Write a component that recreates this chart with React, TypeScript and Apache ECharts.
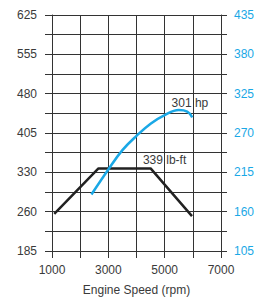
import React, { useEffect, useRef } from "react";
import * as echarts from "echarts";

const rpmTicksLabeled = [1000, 3000, 5000, 7000];
const torqueLabels = ["185", "260", "330", "405", "480", "555", "625"];
const hpLabels = ["105", "160", "215", "270", "325", "380", "435"];

const torqueRpm = [1080, 2650, 4500, 5970];
const torqueVals = [254, 339, 339, 250];

const hpRpm = [2400, 3000, 3500, 4000, 4500, 5000, 5500, 5800, 5980];
const hpVals = [184, 219, 246, 266, 283, 295, 302, 300, 292];

const TORQUE_MIN = 185, TORQUE_MAX = 625;
const HP_MIN = 105, HP_MAX = 435;

const FONT = "'Liberation Sans', Arial, sans-serif";
const TEXT = "#3a3a3a";
const GRID = "#333333";
const BLUE = "#1aa8e6";

function evenly(min: number, max: number, n: number) {
  const out: number[] = [];
  for (let i = 0; i <= n; i++) out.push(min + ((max - min) * i) / n);
  return out;
}

export default function App() {
  const ref = useRef<HTMLDivElement>(null);
  useEffect(() => {
    if (!ref.current) return;
    const chart = echarts.init(ref.current, undefined, { renderer: "svg" });
    const tStep = (TORQUE_MAX - TORQUE_MIN) / 6;
    const hStep = (HP_MAX - HP_MIN) / 6;
    chart.setOption({
      animation: false,
      grid: { left: 52, right: 38, top: 15, bottom: 49, containLabel: false },
      xAxis: {
        type: "value",
        min: 1000,
        max: 7000,
        interval: 1000,
        name: "Engine Speed (rpm)",
        nameLocation: "middle",
        nameGap: 33,
        nameTextStyle: { color: TEXT, fontSize: 12, fontFamily: FONT },
        axisLine: { show: true, lineStyle: { color: GRID, width: 1 } },
        axisTick: { show: true, length: 7, lineStyle: { color: GRID } },
        splitLine: { show: true, lineStyle: { color: GRID, width: 1 } },
        axisLabel: {
          color: TEXT,
          fontSize: 12,
          fontFamily: FONT,
          margin: 13,
          formatter: (v: number) => (rpmTicksLabeled.includes(v) ? String(v) : ""),
        },
      },
      yAxis: [
        {
          type: "value",
          position: "left",
          min: TORQUE_MIN,
          max: TORQUE_MAX,
          axisLine: { show: true, lineStyle: { color: GRID, width: 1 } },
          axisTick: {
            show: true,
            length: 7,
            lineStyle: { color: GRID },
            customValues: evenly(TORQUE_MIN, TORQUE_MAX, 12),
          },
          axisLabel: {
            color: TEXT,
            fontSize: 12,
            fontFamily: FONT,
            margin: 15,
            customValues: evenly(TORQUE_MIN, TORQUE_MAX, 6),
            formatter: (v: number) => torqueLabels[Math.round((v - TORQUE_MIN) / tStep)] ?? "",
          },
          splitLine: { show: false },
        },
        {
          type: "value",
          position: "right",
          min: HP_MIN,
          max: HP_MAX,
          axisLine: { show: true, lineStyle: { color: GRID, width: 1 } },
          axisTick: {
            show: true,
            length: 6,
            lineStyle: { color: GRID },
            customValues: evenly(HP_MIN, HP_MAX, 12),
          },
          axisLabel: {
            color: BLUE,
            fontSize: 12,
            fontFamily: FONT,
            margin: 13,
            customValues: evenly(HP_MIN, HP_MAX, 6),
            formatter: (v: number) => hpLabels[Math.round((v - HP_MIN) / hStep)] ?? "",
          },
          splitLine: { show: false },
        },
        {
          type: "value",
          position: "left",
          min: 0,
          max: 12,
          interval: 1,
          axisLine: { show: false },
          axisTick: { show: false },
          axisLabel: { show: false },
          splitLine: { show: true, lineStyle: { color: GRID, width: 1 } },
        },
      ],
      series: [
        {
          type: "line",
          yAxisIndex: 0,
          data: torqueRpm.map((r, i) => [r, torqueVals[i]]),
          showSymbol: false,
          lineStyle: { color: "#222222", width: 2.5 },
          markPoint: {
            symbol: "circle",
            symbolSize: 1,
            itemStyle: { color: "rgba(0,0,0,0)" },
            data: [{ coord: [4500, 339] }],
            label: {
              show: true,
              position: "inside",
              offset: [14, -8],
              formatter: "339 lb-ft",
              color: TEXT,
              fontSize: 12,
              fontFamily: FONT,
            },
          },
        },
        {
          type: "line",
          yAxisIndex: 1,
          data: hpRpm.map((r, i) => [r, hpVals[i]]),
          smooth: 0.4,
          showSymbol: false,
          lineStyle: { color: BLUE, width: 2.5 },
          markPoint: {
            symbol: "circle",
            symbolSize: 1,
            itemStyle: { color: "rgba(0,0,0,0)" },
            data: [{ coord: [5400, 301] }],
            label: {
              show: true,
              position: "inside",
              offset: [14, -8],
              formatter: "301 hp",
              color: TEXT,
              fontSize: 12,
              fontFamily: FONT,
            },
          },
        },
      ],
    });
    return () => chart.dispose();
  }, []);
  return (
    <div
      ref={ref}
      style={{ position: "fixed", left: 0, top: 0, width: 259, height: 301, background: "#fff" }}
    />
  );
}
